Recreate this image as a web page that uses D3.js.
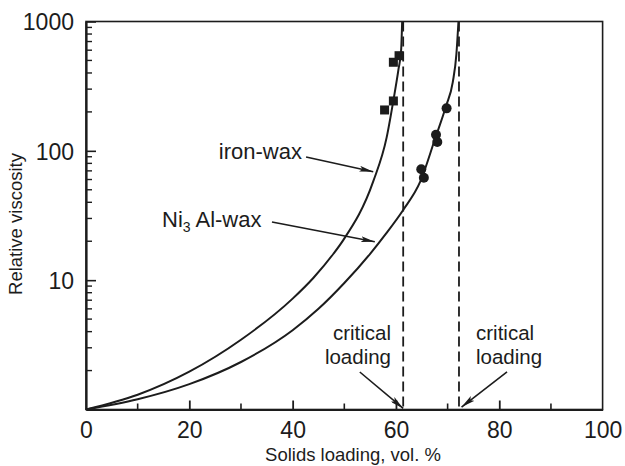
<!DOCTYPE html>
<html>
<head>
<meta charset="utf-8">
<script src="https://cdn.jsdelivr.net/npm/d3@7"></script>
<style>
  html, body { margin: 0; padding: 0; background: #fff; }
  svg text { font-family: "Liberation Sans", Arial, Helvetica, sans-serif; fill: #1c1c1c; }
</style>
</head>
<body>
<div id="wrapper"></div>
<script>
// Data
const ironLoading = [0, 10, 20, 30, 40, 44, 47.9, 49.8, 55.6, 58.2, 59.5, 60.5, 61.0, 61.2];
const ironViscosity = [1, 1.3, 1.96, 3.46, 7.2, 10.4, 16.0, 20.4, 58, 127, 245, 430, 600, 1000];
const ni3alLoading = [0, 10, 20, 30, 40, 45, 50, 55, 58, 61.4, 64.7, 67.6, 69.7, 71.0, 71.7, 72.1];
const ni3alViscosity = [1, 1.2, 1.57, 2.33, 4.1, 6.0, 9.5, 16.0, 22.7, 34.9, 57.7, 125, 222, 340, 560, 1000];
const ironPointsX = [60.6, 59.5, 59.5, 57.8];
const ironPointsY = [544, 484, 243, 207];
const ni3alPointsX = [69.8, 67.75, 68.0, 64.9, 65.4];
const ni3alPointsY = [213, 133, 117, 72, 62];
const criticalLoadings = [61.4, 72.2];
const xTickValues = [0, 20, 40, 60, 80, 100];
const xMinorTicks = [10, 30, 50, 70, 90];
const yTickValues = [10, 100, 1000];

// Constants
const WIDTH = 625;
const HEIGHT = 466;
const INK = "#1c1c1c";

const dimensions = (() => {
    let dimensions = {
        width: WIDTH,
        height: HEIGHT,
        margin: { top: 21.5, right: 22.4, bottom: 56.5, left: 86 },
    };
    dimensions.boundedWidth = dimensions.width - dimensions.margin.left - dimensions.margin.right;
    dimensions.boundedHeight = dimensions.height - dimensions.margin.top - dimensions.margin.bottom;
    return dimensions;
})();

function drawChart() {
    const wrapper = d3.select("#wrapper")
        .append("svg")
        .attr("width", dimensions.width)
        .attr("height", dimensions.height);

    wrapper.append("defs").append("marker")
        .attr("id", "head")
        .attr("viewBox", "0 0 14 6")
        .attr("refX", 14)
        .attr("refY", 3)
        .attr("markerWidth", 14)
        .attr("markerHeight", 6)
        .attr("markerUnits", "userSpaceOnUse")
        .attr("orient", "auto")
        .append("path")
        .attr("d", "M0,0 L14,3 L0,6 L3,3 Z")
        .attr("fill", INK);

    const bounds = wrapper.append("g")
        .attr("transform", `translate(${dimensions.margin.left},${dimensions.margin.top})`);

    // Scales
    const xScale = d3.scaleLinear()
        .domain([0, 100])
        .range([0, dimensions.boundedWidth]);
    const yScale = d3.scaleLog()
        .domain([1, 1000])
        .range([dimensions.boundedHeight, 0]);

    // Frame
    bounds.append("rect")
        .attr("width", dimensions.boundedWidth)
        .attr("height", dimensions.boundedHeight)
        .attr("fill", "none")
        .attr("stroke", INK)
        .attr("stroke-width", 1.6);

    // Y axis, ticks point inward
    const yMinor = d3.range(1, 4).flatMap(e => d3.range(2, 10).map(m => m * Math.pow(10, e - 1)));
    const yAxis = d3.axisLeft(yScale)
        .tickValues(yTickValues)
        .tickSizeInner(-10)
        .tickSizeOuter(0)
        .tickPadding(12)
        .tickFormat(d3.format("d"));
    const yAxisGroup = bounds.append("g").call(yAxis);
    yAxisGroup.select(".domain").attr("stroke", INK).attr("stroke-width", 2.2);
    yAxisGroup.selectAll(".tick line").attr("stroke", INK).attr("stroke-width", 1.6);
    yAxisGroup.selectAll(".tick text")
        .attr("font-size", 23)
        .attr("dy", "0.36em")
        .attr("fill", INK);
    bounds.append("g").selectAll("line")
        .data(yMinor)
        .join("line")
        .attr("x1", 0)
        .attr("x2", 6)
        .attr("y1", d => yScale(d))
        .attr("y2", d => yScale(d))
        .attr("stroke", INK)
        .attr("stroke-width", 1.4);

    // X axis
    const xAxis = d3.axisBottom(xScale)
        .tickValues(xTickValues)
        .tickSizeInner(-9)
        .tickSizeOuter(0)
        .tickPadding(12);
    const xAxisGroup = bounds.append("g")
        .attr("transform", `translate(0,${dimensions.boundedHeight})`)
        .call(xAxis);
    xAxisGroup.select(".domain").attr("stroke", INK).attr("stroke-width", 2.2);
    xAxisGroup.selectAll(".tick line").attr("stroke", INK).attr("stroke-width", 1.8);
    xAxisGroup.selectAll(".tick text")
        .attr("font-size", 23)
        .attr("fill", INK);
    xAxisGroup.selectAll(".tick")
        .filter(d => d === 0 || d === 100)
        .select("line").remove();
    bounds.append("g").selectAll("line")
        .data(xMinorTicks)
        .join("line")
        .attr("x1", d => xScale(d))
        .attr("x2", d => xScale(d))
        .attr("y1", dimensions.boundedHeight)
        .attr("y2", dimensions.boundedHeight - 6)
        .attr("stroke", INK)
        .attr("stroke-width", 1.6);

    // Axis titles
    wrapper.append("text")
        .attr("x", 353)
        .attr("y", 461)
        .attr("text-anchor", "middle")
        .attr("font-size", 18.5)
        .text("Solids loading, vol. %");
    wrapper.append("text")
        .attr("transform", `translate(22,224) rotate(-90)`)
        .attr("text-anchor", "middle")
        .attr("font-size", 18.5)
        .text("Relative viscosity");

    // Critical loading lines
    bounds.append("g").selectAll("line")
        .data(criticalLoadings)
        .join("line")
        .attr("x1", d => xScale(d))
        .attr("x2", d => xScale(d))
        .attr("y1", 0)
        .attr("y2", dimensions.boundedHeight)
        .attr("stroke", INK)
        .attr("stroke-width", 1.8)
        .attr("stroke-dasharray", "10,5");

    // Curves
    const line = d3.line()
        .x(d => xScale(d[0]))
        .y(d => yScale(d[1]))
        .curve(d3.curveMonotoneX);
    const curves = [
        d3.zip(ironLoading, ironViscosity),
        d3.zip(ni3alLoading, ni3alViscosity),
    ];
    bounds.append("g").selectAll("path")
        .data(curves)
        .join("path")
        .attr("d", line)
        .attr("fill", "none")
        .attr("stroke", INK)
        .attr("stroke-width", 2);

    // Points
    bounds.append("g").selectAll("rect")
        .data(d3.zip(ironPointsX, ironPointsY))
        .join("rect")
        .attr("x", d => xScale(d[0]) - 4.5)
        .attr("y", d => yScale(d[1]) - 4.5)
        .attr("width", 9)
        .attr("height", 9)
        .attr("fill", INK);
    bounds.append("g").selectAll("circle")
        .data(d3.zip(ni3alPointsX, ni3alPointsY))
        .join("circle")
        .attr("cx", d => xScale(d[0]))
        .attr("cy", d => yScale(d[1]))
        .attr("r", 5)
        .attr("fill", INK);

    // Annotations
    const arrows = [
        [[42.6, 89.6], [55.6, 69]],
        [[36.0, 28.2], [55.9, 19.8]],
        [[53.0, 1.95], [61.4, 1.02]],
        [[81.5, 1.95], [72.7, 1.045]],
    ];
    bounds.append("g").selectAll("line")
        .data(arrows)
        .join("line")
        .attr("x1", d => xScale(d[0][0]))
        .attr("y1", d => yScale(d[0][1]))
        .attr("x2", d => xScale(d[1][0]))
        .attr("y2", d => yScale(d[1][1]))
        .attr("stroke", INK)
        .attr("stroke-width", 1.6)
        .attr("marker-end", "url(#head)");

    const labels = wrapper.append("g").attr("font-size", 22);
    labels.append("text")
        .attr("x", 302)
        .attr("y", 159)
        .attr("text-anchor", "end")
        .text("iron-wax");
    const ni = labels.append("text")
        .attr("x", 162)
        .attr("y", 227);
    ni.append("tspan").text("Ni");
    ni.append("tspan").attr("font-size", 14).attr("dy", 5).text("3");
    ni.append("tspan").attr("dy", -5).text(" Al-wax");

    [[391, "end"], [476, "start"]].forEach(([x, anchor]) => {
        labels.append("text").attr("x", x).attr("y", 340).attr("font-size", 20.5).attr("text-anchor", anchor).text("critical");
        labels.append("text").attr("x", x).attr("y", 364).attr("font-size", 20.5).attr("text-anchor", anchor).text("loading");
    });
}
drawChart();
</script>
</body>
</html>
